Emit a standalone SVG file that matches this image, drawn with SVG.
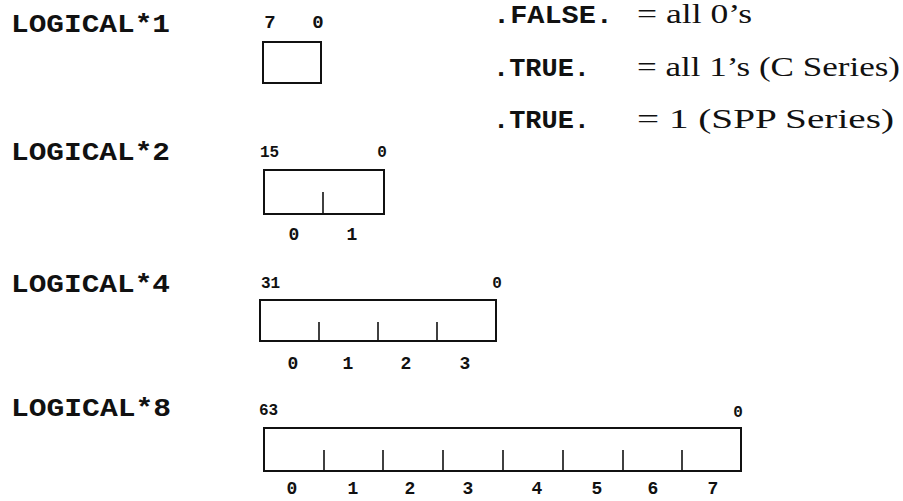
<svg xmlns="http://www.w3.org/2000/svg" width="903" height="501" viewBox="0 0 903 501">
<style>
.lbl{font-family:"Liberation Mono","Courier New",monospace;font-weight:bold;font-size:26px;fill:#111}
.bit{font-family:"Liberation Mono","Courier New",monospace;font-weight:bold;font-size:16px;fill:#111}
.bitL{font-family:"Liberation Mono","Courier New",monospace;font-weight:bold;font-size:19px;fill:#111;text-anchor:middle}
.idx{font-family:"Liberation Mono","Courier New",monospace;font-weight:bold;font-size:18px;fill:#111;text-anchor:middle}
.kw{font-family:"Liberation Mono","Courier New",monospace;font-weight:bold;font-size:25px;fill:#111}
.txt{font-family:"Liberation Serif","Times New Roman",serif;font-size:27px;fill:#111}
.box{fill:none;stroke:#111;stroke-width:2}
.div{stroke:#111;stroke-width:1.6}
</style>
<rect width="903" height="501" fill="#fff"/>
<g id="logical1">
<text class="lbl" x="11" y="32" textLength="159" lengthAdjust="spacingAndGlyphs">LOGICAL*1</text>
<text class="bitL" x="270" y="28">7</text>
<text class="bitL" x="318" y="28">0</text>
<rect class="box" x="263" y="42" width="58" height="41"/>
</g>
<g id="legend">
<text class="kw" x="493" y="23" textLength="120" lengthAdjust="spacingAndGlyphs">.FALSE.</text>
<text class="txt" x="637" y="23" textLength="115" lengthAdjust="spacingAndGlyphs">= all 0’s</text>
<text class="kw" x="493" y="76" textLength="97" lengthAdjust="spacingAndGlyphs">.TRUE.</text>
<text class="txt" x="637" y="76" textLength="263" lengthAdjust="spacingAndGlyphs">= all 1’s (C Series)</text>
<text class="kw" x="493" y="128" textLength="97" lengthAdjust="spacingAndGlyphs">.TRUE.</text>
<text class="txt" x="637" y="128" textLength="257" lengthAdjust="spacingAndGlyphs">= 1 (SPP Series)</text>
</g>
<g id="logical2">
<text class="lbl" x="11" y="160" textLength="159" lengthAdjust="spacingAndGlyphs">LOGICAL*2</text>
<text class="bit" x="260" y="157">15</text>
<text class="bit" x="382" y="157" text-anchor="middle">0</text>
<rect class="box" x="264" y="170" width="120" height="44"/>
<line class="div" x1="323" y1="192" x2="323" y2="214"/>
<text class="idx" x="294" y="240">0</text>
<text class="idx" x="352" y="240">1</text>
</g>
<g id="logical4">
<text class="lbl" x="11" y="292" textLength="159" lengthAdjust="spacingAndGlyphs">LOGICAL*4</text>
<text class="bit" x="261" y="288">31</text>
<text class="bit" x="497" y="288" text-anchor="middle">0</text>
<rect class="box" x="260" y="300" width="236" height="41"/>
<line class="div" x1="319" y1="322" x2="319" y2="341"/>
<line class="div" x1="378" y1="322" x2="378" y2="341"/>
<line class="div" x1="437" y1="322" x2="437" y2="341"/>
<text class="idx" x="293" y="369">0</text>
<text class="idx" x="348" y="369">1</text>
<text class="idx" x="406" y="369">2</text>
<text class="idx" x="465" y="369">3</text>
</g>
<g id="logical8">
<text class="lbl" x="11" y="416" textLength="160" lengthAdjust="spacingAndGlyphs">LOGICAL*8</text>
<text class="bit" x="259" y="415">63</text>
<text class="bit" x="738" y="417" text-anchor="middle">0</text>
<rect class="box" x="264" y="428" width="477" height="43"/>
<line class="div" x1="324" y1="450" x2="324" y2="471"/>
<line class="div" x1="383" y1="450" x2="383" y2="471"/>
<line class="div" x1="443" y1="450" x2="443" y2="471"/>
<line class="div" x1="503" y1="450" x2="503" y2="471"/>
<line class="div" x1="563" y1="450" x2="563" y2="471"/>
<line class="div" x1="623" y1="450" x2="623" y2="471"/>
<line class="div" x1="682" y1="450" x2="682" y2="471"/>
<text class="idx" x="292" y="494">0</text>
<text class="idx" x="353" y="494">1</text>
<text class="idx" x="410" y="494">2</text>
<text class="idx" x="468" y="494">3</text>
<text class="idx" x="537" y="494">4</text>
<text class="idx" x="597" y="494">5</text>
<text class="idx" x="653" y="494">6</text>
<text class="idx" x="713" y="494">7</text>
</g>
</svg>
